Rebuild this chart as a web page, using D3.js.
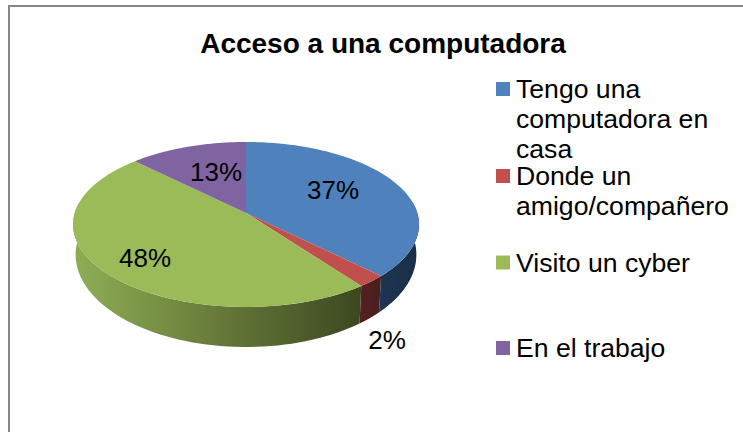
<!DOCTYPE html>
<html>
<head>
<meta charset="utf-8">
<script src="https://cdn.jsdelivr.net/npm/d3@7"></script>
<style>html,body{margin:0;padding:0;background:#fff}svg{display:block}text{font-family:"Liberation Sans",Arial,sans-serif;fill:#000}</style>
</head>
<body>
<svg id="c" width="743" height="432"></svg>
<script>
const title = "Acceso a una computadora";
const categories = ["Tengo una computadora en casa","Donde un amigo/compañero","Visito un cyber","En el trabajo"];
const legendLines = [["Tengo una","computadora en","casa"],["Donde un","amigo/compañero"],["Visito un cyber"],["En el trabajo"]];
const values = [37.4,2.4,47.6,12.6];
const colors = ["#4f81bd","#c0504d","#9bbb59","#8064a2"];
const sideColors = [["#1d3553","#1b3048"],["#552020","#4a1e1e"],["#8dab53","#3d4820"],["#8064a2","#8064a2"]];

const svg = d3.select("#c");
svg.append("path").attr("d","M9,432V6H743").attr("fill","none").attr("stroke","#868686").attr("stroke-width",2);

// perspective projection of the pie disc
const cx=246, y0=213, k=0.139, a=80.9, b=171.3;
const rimTop = t => { const u=Math.sin(t), v=Math.cos(t), d=1+k*v; return [cx+b*u/d, y0-a*v/d]; };
const rimLow = t => { const p=rimTop(t); return [cx+(p[0]-cx)*0.985, p[1]+30+0.12*(p[1]-223)]; };
const line = d3.line();
const samples = (s,e) => d3.range(0,65).map(i=>s+(e-s)*i/64);

const arcs = d3.pie().sort(null).value(d=>d)(values);

const defs = svg.append("defs");
const sideClamp = (s,e) => [Math.max(s,Math.PI/2-0.14), Math.min(e,Math.PI*1.5+0.14)];
arcs.forEach((d,i)=>{
  const [s,e]=sideClamp(d.startAngle,d.endAngle);
  if(e<=s) return;
  const x1=rimLow(e)[0], x2=rimLow(s)[0];
  const g=defs.append("linearGradient").attr("id","g"+i).attr("gradientUnits","userSpaceOnUse")
    .attr("x1",Math.min(x1,x2)).attr("x2",Math.max(x1,x2)).attr("y1",0).attr("y2",0);
  g.append("stop").attr("offset",0).attr("stop-color",sideColors[i][0]);
  g.append("stop").attr("offset",1).attr("stop-color",sideColors[i][1]);
  const pts=samples(s,e);
  svg.append("path").attr("fill",`url(#g${i})`)
    .attr("d",line(pts.map(rimTop).concat(pts.slice().reverse().map(rimLow)))+"Z");
});
arcs.forEach((d,i)=>{
  const pts=samples(d.startAngle,d.endAngle).map(rimTop);
  svg.append("path").attr("fill",colors[i]).attr("d",line([[cx,y0],...pts])+"Z");
});

// data labels
const pct = d3.format(".0%");
const labelPos=[[333,190],[387,340],[145,258],[216,172]];
arcs.forEach((d,i)=>{
  svg.append("text").attr("x",labelPos[i][0]).attr("y",labelPos[i][1]).attr("dy","0.35em")
    .attr("text-anchor","middle").attr("font-size",26).text(pct(values[i]/100));
});

svg.append("text").attr("x",383).attr("y",43).attr("dy","0.35em").attr("text-anchor","middle")
  .attr("font-size",28).attr("font-weight","bold").text(title);

// legend
const keyY=[89,176,262.5,348];
legendLines.forEach((ls,i)=>{
  svg.append("rect").attr("x",496).attr("y",keyY[i]-7).attr("width",14).attr("height",14).attr("fill",colors[i]);
  ls.forEach((l,j)=>svg.append("text").attr("x",516).attr("y",keyY[i]+j*30).attr("dy","0.35em").attr("font-size",26.6).text(l));
});
</script>
</body>
</html>
